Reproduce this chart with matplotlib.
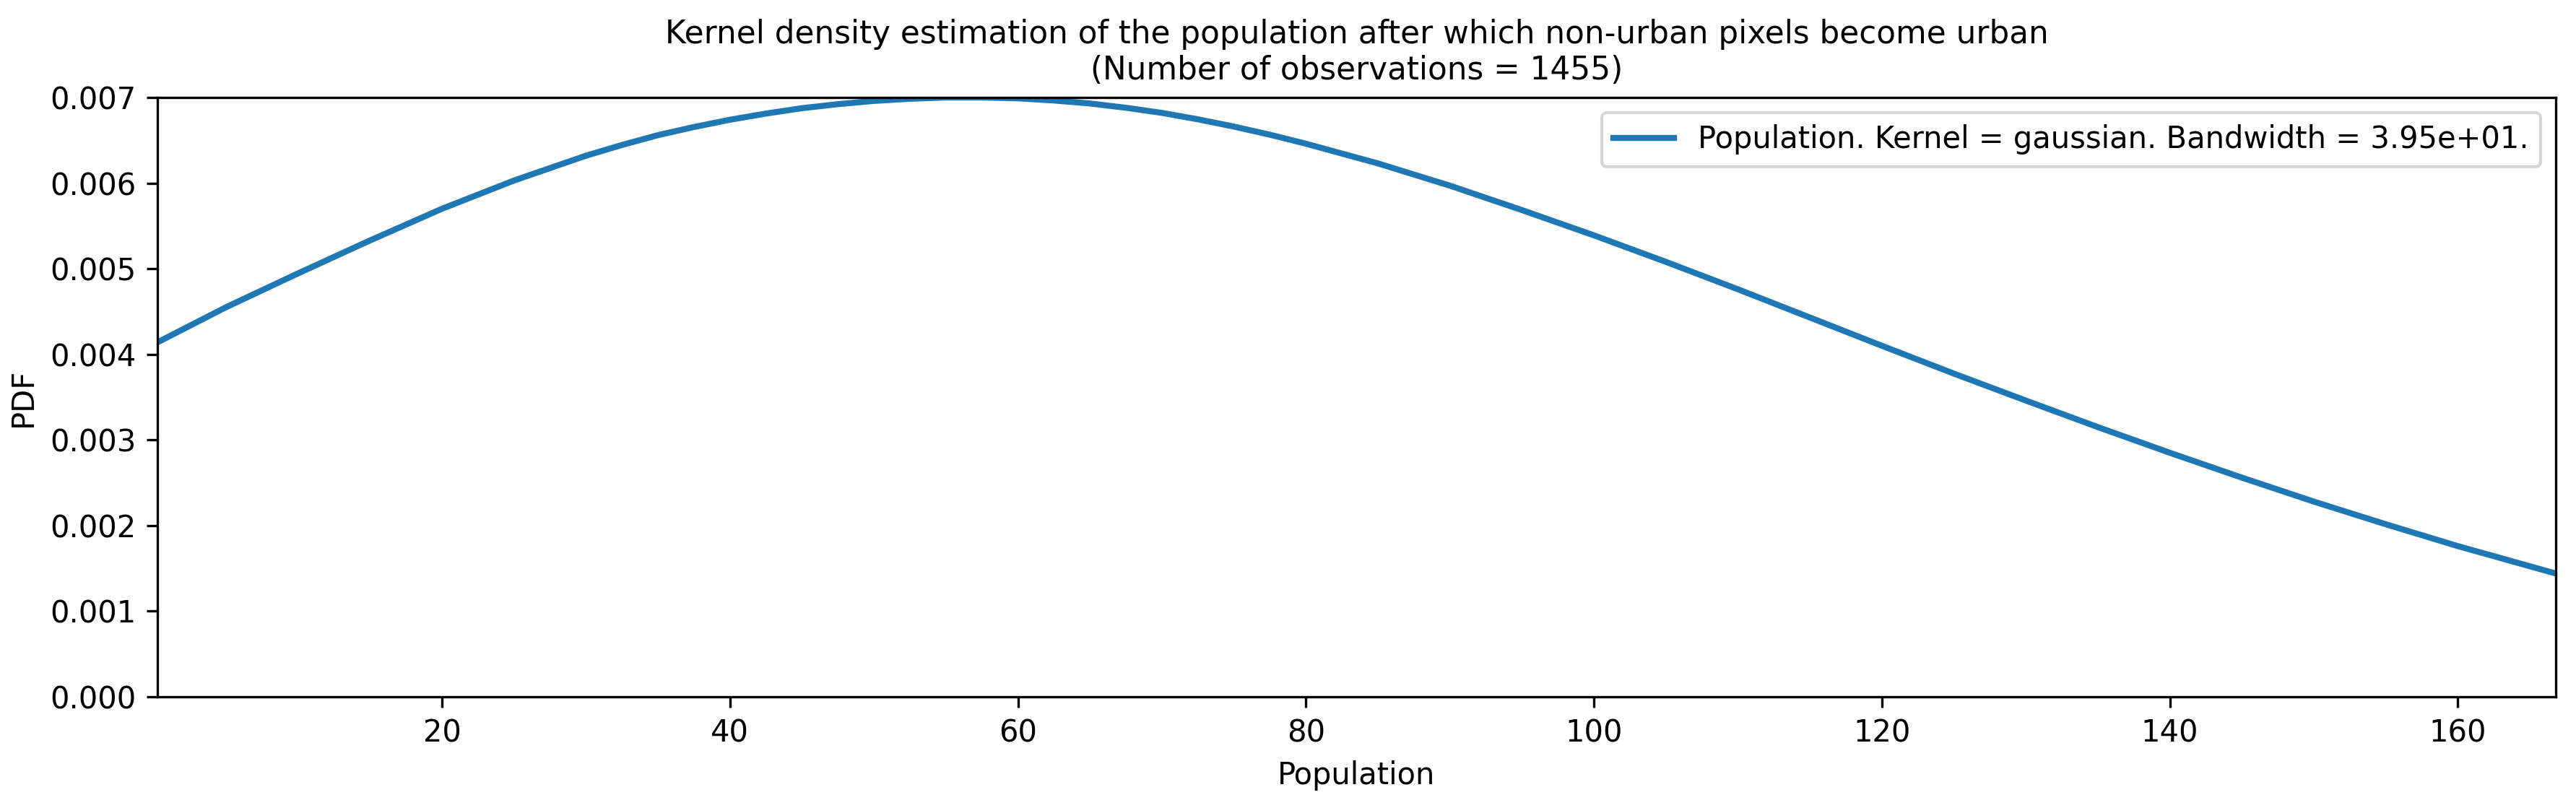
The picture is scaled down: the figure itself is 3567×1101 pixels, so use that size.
#KDE of the population at which non-urban pixels become urban
#values

import numpy as np
import matplotlib
matplotlib.use('Agg')
import matplotlib.pyplot as plt

# curve points (population, pdf x 1000)
population = [0.24, 5, 10, 15, 20, 25, 30, 32.5, 35, 37.5, 40, 42.5, 45, 47.5,
              50, 52.5, 55, 57.5, 60, 62.5, 65, 67.5, 70, 72.5, 75, 77.5, 80,
              85, 90, 95, 100, 105, 110, 115, 120, 125, 130, 135, 140, 145,
              150, 155, 160, 166.8]
pdf_e3 = [4.14, 4.55, 4.945, 5.33, 5.70, 6.03, 6.32, 6.445, 6.56, 6.655,
          6.74, 6.812, 6.875, 6.922, 6.96, 6.985, 7.00, 7.00, 6.99, 6.965,
          6.93, 6.88, 6.82, 6.745, 6.66, 6.565, 6.46, 6.23, 5.97, 5.685,
          5.39, 5.08, 4.76, 4.43, 4.10, 3.775, 3.46, 3.15, 2.85, 2.56, 2.28,
          2.015, 1.76, 1.44]
pdf = np.array(pdf_e3) / 1000.0

n_obs = 1455
bandwidth = 3.95e+01
kernel = 'gaussian'

dpi = 300
fig = plt.figure(figsize=(3567 / dpi, 1101 / dpi), dpi=dpi)
ax = fig.add_axes([218 / 3567, 1 - 965 / 1101, (3539 - 218) / 3567, (965 - 135) / 1101])

ax.plot(population, pdf, color='#1f77b4', lw=2,
        label='Population. Kernel = {}. Bandwidth = {:.2e}.'.format(kernel, bandwidth))

ax.set_xlim(population[0], population[-1])
ax.set_ylim(0, 0.007)
ax.set_xticks([20, 40, 60, 80, 100, 120, 140, 160])
ax.set_yticks(np.arange(0, 0.0071, 0.001))
ax.yaxis.set_major_formatter(matplotlib.ticker.FormatStrFormatter('%.3f'))

ax.set_xlabel('Population')
ax.set_ylabel('PDF')
ax.set_title('Kernel density estimation of the population after which non-urban pixels become urban\n'
             '(Number of observations = {})'.format(n_obs), fontsize=10.5)
ax.legend(loc='upper right')

fig.savefig('out.png', dpi=dpi)
